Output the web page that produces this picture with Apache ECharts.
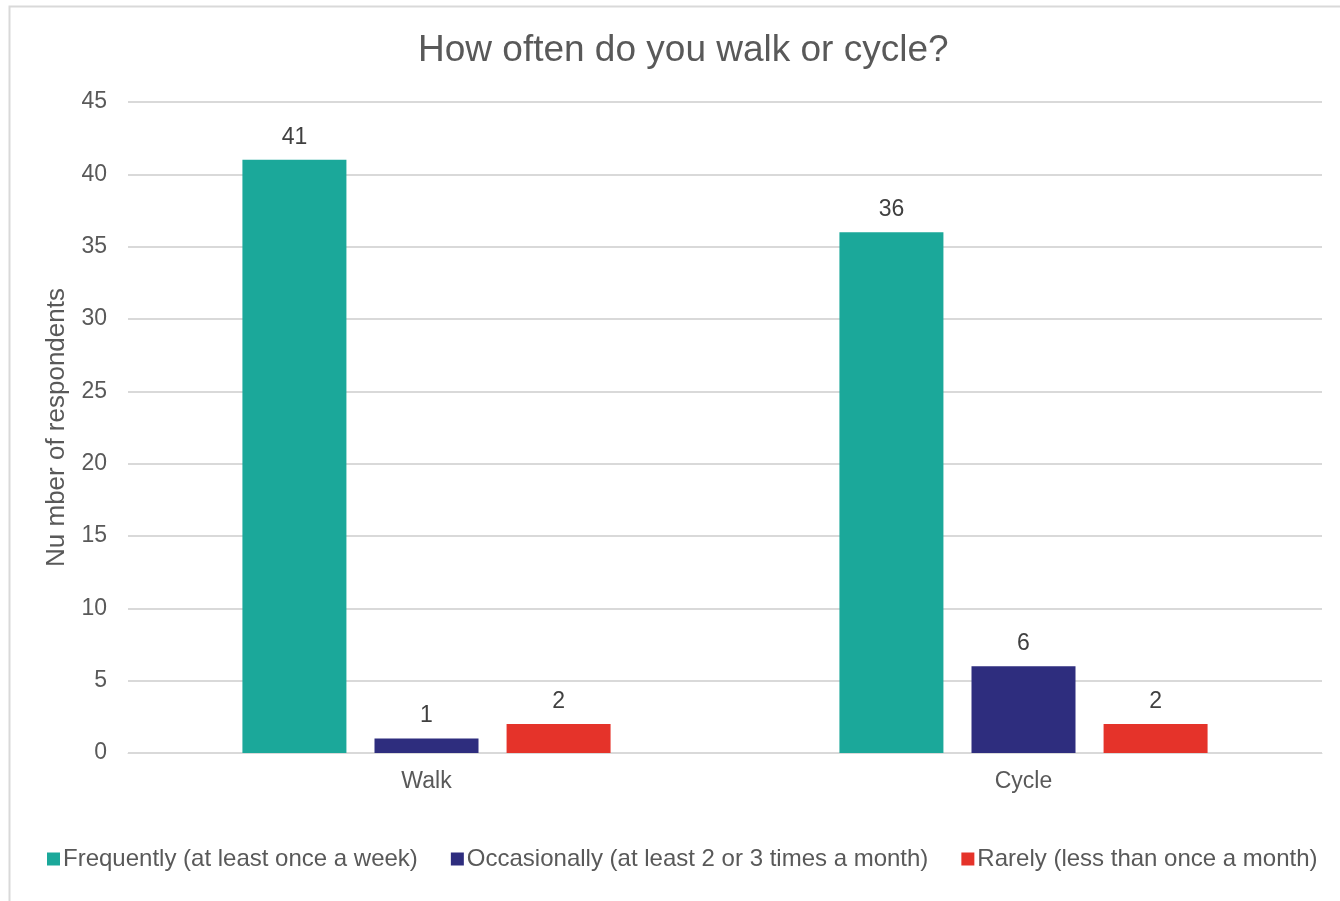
<!DOCTYPE html>
<html>
<head>
<meta charset="utf-8">
<script src="https://cdn.jsdelivr.net/npm/echarts@6/dist/echarts.min.js"></script>
<style>
  html, body { margin: 0; padding: 0; background: #fff; }
  #chart { width: 1340px; height: 901px; }
</style>
</head>
<body>
<div id="chart"></div>
<script>
var categories = ['Walk', 'Cycle'];
var seriesNames = [
    'Frequently (at least once a week)',
    'Occasionally (at least 2 or 3 times a month)',
    'Rarely (less than once a month)'
];
var frequently = [41, 36];
var occasionally = [1, 6];
var rarely = [2, 2];
var colors = ['#1ba89a', '#2e2d7e', '#e5332a'];

var font = 'Liberation Sans, Arial, sans-serif';
var textColor = '#595959';

function makeSeries(name, data, color) {
    return {
        name: name,
        type: 'bar',
        data: data,
        barWidth: 104,
        barGap: '27%',
        itemStyle: { color: color },
        label: {
            show: true,
            position: 'top',
            distance: 11,
            color: '#404040',
            fontFamily: font,
            fontSize: 23
        }
    };
}

var myChart = echarts.init(document.getElementById('chart'));
myChart.setOption({
    animation: false,
    textStyle: { fontFamily: font },
    graphic: [{
        type: 'rect',
        shape: { x: 9.5, y: 6.5, width: 1400, height: 1000 },
        style: { fill: 'none', stroke: '#d9d9d9', lineWidth: 2 },
        silent: true
    }],
    title: {
        text: 'How often do you walk or cycle?',
        left: 413,
        top: 27,
        textStyle: {
            color: textColor,
            fontFamily: font,
            fontSize: 37,
            fontWeight: 'normal'
        }
    },
    legend: {
        top: 842,
        left: 42,
        itemWidth: 13,
        itemHeight: 13,
        itemGap: 33,
        icon: 'rect',
        textStyle: { color: textColor, fontFamily: font, fontSize: 24, padding: [0, 0, 0, -2] },
        data: seriesNames
    },
    grid: { left: 128, right: 18, top: 102, bottom: 148 },
    xAxis: {
        type: 'category',
        data: categories,
        axisLine: { lineStyle: { color: '#d9d9d9', width: 1 } },
        axisTick: { show: false },
        axisLabel: { color: textColor, fontFamily: font, fontSize: 23, margin: 17 }
    },
    yAxis: {
        type: 'value',
        min: 0,
        max: 45,
        interval: 5,
        name: 'Nu mber of respondents',
        nameLocation: 'middle',
        nameGap: 58,
        nameTextStyle: { color: textColor, fontFamily: font, fontSize: 26 },
        axisLine: { show: false },
        axisTick: { show: false },
        axisLabel: { color: textColor, fontFamily: font, fontSize: 23, margin: 21 },
        splitLine: { lineStyle: { color: '#d9d9d9', width: 2 } }
    },
    series: [
        makeSeries(seriesNames[0], frequently, colors[0]),
        makeSeries(seriesNames[1], occasionally, colors[1]),
        makeSeries(seriesNames[2], rarely, colors[2])
    ]
});
</script>
</body>
</html>
